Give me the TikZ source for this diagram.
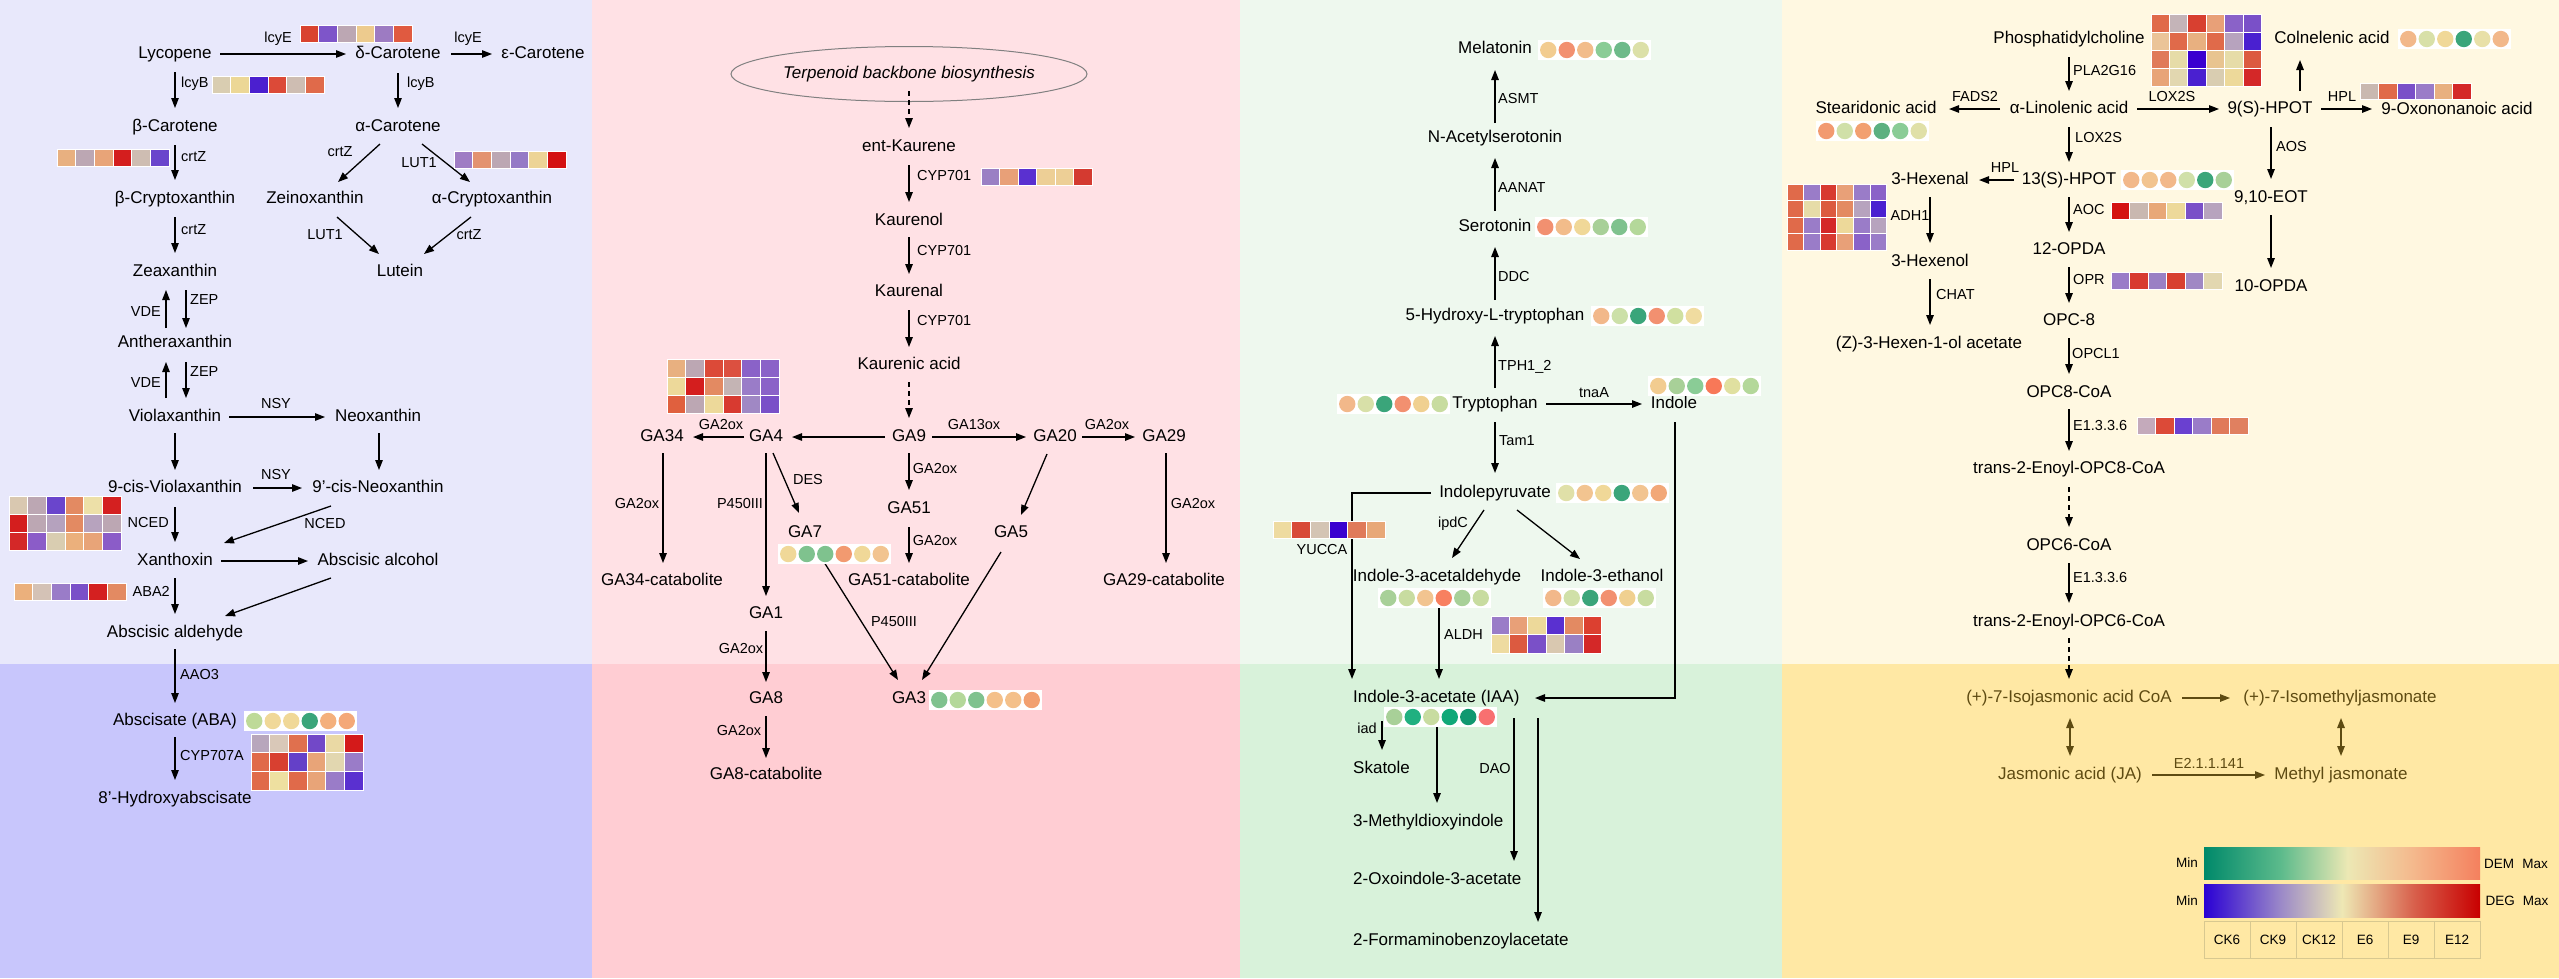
\documentclass[tikz,border=0pt]{standalone}
\usepackage{fontspec}
\setmainfont{Liberation Sans}
\usetikzlibrary{arrows.meta,shapes.geometric}
\newcommand\fcomp{\fontsize{17}{20}\selectfont}
\newcommand\fenz{\fontsize{14.5}{17}\selectfont}
\newcommand\flg{\fontsize{13.5}{16}\selectfont}
\definecolor{pat}{HTML}{E8E8FB}\definecolor{pab}{HTML}{C8C6FC}
\definecolor{pbt}{HTML}{FFE1E5}\definecolor{pbb}{HTML}{FFCDD3}
\definecolor{pct}{HTML}{EEF8EE}\definecolor{pcb}{HTML}{D8F2DA}
\definecolor{pdt}{HTML}{FFF8E1}\definecolor{pdb}{HTML}{FFE8A4}
\definecolor{jaol}{HTML}{5E4B12}
\definecolor{demA}{HTML}{00896A}\definecolor{demB}{HTML}{5DBB8C}\definecolor{demC}{HTML}{ECE8B4}\definecolor{demD}{HTML}{F4B88C}\definecolor{demE}{HTML}{F4805E}
\definecolor{degA}{HTML}{2A00D4}\definecolor{degB}{HTML}{9C8AC8}\definecolor{degC}{HTML}{EEE8B4}\definecolor{degD}{HTML}{D8604C}\definecolor{degE}{HTML}{C80000}
\definecolor{tabln}{HTML}{D8C890}
\pgfdeclarehorizontalshading{demsh}{100bp}{color(0bp)=(demA); color(25bp)=(demA); color(39bp)=(demB); color(51bp)=(demC); color(63bp)=(demD); color(75bp)=(demE); color(100bp)=(demE)}
\pgfdeclarehorizontalshading{degsh}{100bp}{color(0bp)=(degA); color(25bp)=(degA); color(39bp)=(degB); color(50bp)=(degC); color(63bp)=(degD); color(75bp)=(degE); color(100bp)=(degE)}
\newcommand\hmrow[5]{\foreach \c [count=\i from 0] in {#5}{\edef\tmp{\noexpand\definecolor{hmc}{HTML}{\c}}\tmp
  \fill[hmc,draw=white,line width=0.7pt] (#1+\i*#3,#2) rectangle ++(#3,#4);}}
\newcommand\crow[3]{\fill[white] (#1-1,#2-10) rectangle (#1+112,#2+10);
  \foreach \c [count=\i from 0] in {#3}{\edef\tmp{\noexpand\definecolor{crc}{HTML}{\c}}\tmp
  \fill[crc] (#1+9.25+\i*18.5,#2) circle[radius=8.2pt];}}
\newcommand\lk[5][]{\draw[arr0,#1] ([shift={(#3)}]#2.center) -- ([shift={(#5)}]#4.center);}
\begin{document}
\begin{tikzpicture}[x=1pt,y=-1pt,
  comp/.style={font=\fcomp,inner xsep=5pt,inner ysep=6pt,text height=12.3pt,text depth=3.6pt},
  enz/.style={font=\fenz,inner sep=1pt},
  lgd/.style={font=\flg,inner sep=1pt},
  arr0/.style={-{Triangle[length=10pt,width=7.5pt]},line width=1.3pt},
  dsh/.style={dash pattern=on 5pt off 4pt},
  dbl/.style={{Triangle[length=10pt,width=7.5pt]}-{Triangle[length=10pt,width=7.5pt]},line width=1.3pt}]
\useasboundingbox (0,0) rectangle (2559,978);
% backgrounds
\fill[pat] (0,0) rectangle (592,664); \fill[pab] (0,664) rectangle (592,978);
\fill[pbt] (592,0) rectangle (1240,664); \fill[pbb] (592,664) rectangle (1240,978);
\fill[pct] (1240,0) rectangle (1782,664); \fill[pcb] (1240,664) rectangle (1782,978);
\fill[pdt] (1782,0) rectangle (2559,664); \fill[pdb] (1782,664) rectangle (2559,978);

%================ PANEL 1 =================
\node[comp] (lyc) at (175,54) {Lycopene};
\node[comp] (dcar) at (398,54) {δ-Carotene};
\node[comp] (ecar) at (543,54) {ε-Carotene};
\node[comp] (bcar) at (175,127) {β-Carotene};
\node[comp] (acar) at (398,127) {α-Carotene};
\node[comp] (bcry) at (175,199) {β-Cryptoxanthin};
\node[comp] (zein) at (315,199) {Zeinoxanthin};
\node[comp] (acry) at (492,199) {α-Cryptoxanthin};
\node[comp] (lut) at (400,272) {Lutein};
\node[comp] (zea) at (175,272) {Zeaxanthin};
\node[comp] (anth) at (175,343) {Antheraxanthin};
\node[comp] (viol) at (175,417) {Violaxanthin};
\node[comp] (neo) at (378,417) {Neoxanthin};
\node[comp] (cviol) at (175,488) {9-cis-Violaxanthin};
\node[comp] (cneo) at (378,488) {9'-cis-Neoxanthin};
\node[comp] (xan) at (175,561) {Xanthoxin};
\node[comp] (absalc) at (378,561) {Abscisic alcohol};
\node[comp] (absald) at (175,633) {Abscisic aldehyde};
\node[comp] (aba) at (175,721) {Abscisate (ABA)};
\node[comp] (hyd) at (175,799) {8'-Hydroxyabscisate};

\lk{lyc}{45,0}{dcar}{-52,0}
\lk{dcar}{53,0}{ecar}{-51,0}
\lk{lyc}{0,18}{bcar}{0,-19}
\lk{dcar}{0,19}{acar}{0,-19}
\lk{bcar}{0,18}{bcry}{0,-19}
\lk{acar}{-18,17}{zein}{23,-17}
\lk{acar}{24,17}{acry}{-22,-17}
\lk{zein}{22,18}{lut}{-21,-18}
\lk{acry}{-21,18}{lut}{24,-18}
\lk{bcry}{0,18}{zea}{0,-19}
\lk{zea}{11,18}{anth}{11,-15}
\lk{anth}{-9,-15}{zea}{-9,18}
\lk{anth}{11,19}{viol}{11,-19}
\lk{viol}{-9,-19}{anth}{-9,19}
\lk{viol}{54,0}{neo}{-53,0}
\lk{viol}{0,16}{cviol}{0,-18}
\lk{neo}{1,16}{cneo}{1,-18}
\lk{cviol}{78,0}{cneo}{-76,0}
\lk{cviol}{0,19}{xan}{0,-19}
\lk{cneo}{-47,18}{xan}{49,-18}
\lk{xan}{46,0}{absalc}{-70,0}
\lk{xan}{0,17}{absald}{0,-19}
\lk{absalc}{-47,17}{absald}{50,-17}
\lk{absald}{0,16}{aba}{0,-18}
\lk{aba}{0,16}{hyd}{0,-19}

\node[enz] (e1) at (278,39) {lcyE};
\node[enz] (e2) at (468,39) {lcyE};
\node[enz,anchor=west] (e3) at (180,84) {lcyB};
\node[enz,anchor=west] (e4) at (406,84) {lcyB};
\node[enz,anchor=west] (e5) at (180,157) {crtZ};
\node[enz] (e6) at (340,152) {crtZ};
\node[enz] (e7) at (419,163) {LUT1};
\node[enz] (e8) at (325,235) {LUT1};
\node[enz] (e9) at (469,235) {crtZ};
\node[enz,anchor=west] (e10) at (180,230) {crtZ};
\node[enz,anchor=east] (e11) at (162,312) {VDE};
\node[enz,anchor=west] (e12) at (189,300) {ZEP};
\node[enz,anchor=east] (e13) at (162,383) {VDE};
\node[enz,anchor=west] (e14) at (189,372) {ZEP};
\node[enz] (e15) at (276,403) {NSY};
\node[enz] (e16) at (276,474) {NSY};
\node[enz,anchor=east] (e17) at (170,522) {NCED};
\node[enz] (e18) at (325,523) {NCED};
\node[enz,anchor=east] (e19) at (171,591) {ABA2};
\node[enz,anchor=west] (e20) at (179,674) {AAO3};
\node[enz,anchor=west] (e21) at (179,755) {CYP707A};

\hmrow{300}{25}{18.7}{17}{D9432F,7E55C9,BCA7B3,EDCB8E,9D7BC2,E05A40}
\hmrow{212}{76}{18.7}{17}{D9CDB1,ECD796,4B1FCF,DC4A38,CEBDB2,E06A4A}
\hmrow{57}{149}{18.7}{17}{E8B080,BCA7B3,E8A478,D41E1E,CEBDB2,6A45CC}
\hmrow{454}{151}{18.7}{17}{9F7CC4,E39370,BCA7B3,957AC6,EDD496,D41212}
\hmrow{9}{496}{18.7}{18}{D9C8B0,BCA7B3,6A45CC,E38A62,EDE0A8,D42020}
\hmrow{9}{514}{18.7}{18}{D41E1E,BCA7B3,B5A2BE,E38A62,B7A3BE,BCA7B3}
\hmrow{9}{532}{18.7}{18}{D42828,8B5CC8,D9CDB1,EBB07C,E8A478,8B5CC8}
\hmrow{14}{583}{18.7}{17}{EBB07C,D4C2B6,9A7CC8,7A50C8,D42020,E38A62}
\hmrow{251}{734}{18.7}{18.7}{B8A6BC,D9C8B8,E0704E,7248C8,EAD9A4,D41A1A}
\hmrow{251}{752.7}{18.7}{18.7}{E06A4A,D84030,6440C8,E8A478,E2D7B0,9A7CC8}
\hmrow{251}{771.4}{18.7}{18.7}{E06A4A,EEE0A0,E06A4A,E8A478,9A7CC8,5A30D0}
\crow{245}{721}{BEDA98,F0D898,F0D898,3AA57A,F4B07C,F4A878}

%================ PANEL 2 =================
\node[draw=gray,line width=1pt,ellipse,minimum width=285pt,minimum height=55pt,inner sep=0pt,font=\fcomp\itshape] (terp) at (909,74) {Terpenoid backbone biosynthesis};
\node[comp] (entk) at (909,147) {ent-Kaurene};
\node[comp] (kol) at (909,221) {Kaurenol};
\node[comp] (kal) at (909,292) {Kaurenal};
\node[comp] (kac) at (909,365) {Kaurenic acid};
\node[comp] (ga34) at (662,437) {GA34};
\node[comp] (ga4) at (766,437) {GA4};
\node[comp] (ga9) at (909,437) {GA9};
\node[comp] (ga20) at (1055,437) {GA20};
\node[comp] (ga29) at (1164,437) {GA29};
\node[comp] (ga34c) at (662,581) {GA34-catabolite};
\node[comp] (ga7) at (805,533) {GA7};
\node[comp] (ga51) at (909,509) {GA51};
\node[comp] (ga51c) at (909,581) {GA51-catabolite};
\node[comp] (ga5) at (1011,533) {GA5};
\node[comp] (ga29c) at (1164,581) {GA29-catabolite};
\node[comp] (ga1) at (766,614) {GA1};
\node[comp] (ga8) at (766,699) {GA8};
\node[comp] (ga3) at (909,699) {GA3};
\node[comp] (ga8c) at (766,775) {GA8-catabolite};

\lk[dsh]{terp}{0,17}{entk}{0,-19}
\lk{entk}{0,18}{kol}{0,-19}
\lk{kol}{0,16}{kal}{0,-18}
\lk{kal}{0,18}{kac}{0,-18}
\lk[dsh]{kac}{0,17}{ga9}{0,-19}
\lk{ga4}{-22,0}{ga34}{31,0}
\lk{ga9}{-24,0}{ga4}{26,0}
\lk{ga9}{23,0}{ga20}{-29,0}
\lk{ga20}{27,0}{ga29}{-29,0}
\lk{ga34}{1,16}{ga34c}{1,-18}
\lk{ga4}{0,16}{ga1}{0,-18}
\lk{ga4}{7,16}{ga7}{-6,-20}
\lk{ga9}{0,16}{ga51}{0,-19}
\lk{ga51}{0,18}{ga51c}{0,-18}
\lk{ga20}{-8,17}{ga5}{10,-18}
\lk{ga29}{2,16}{ga29c}{2,-18}
\lk{ga7}{19,29}{ga3}{-11,-19}
\lk{ga5}{-10,19}{ga3}{13,-19}
\lk{ga1}{0,17}{ga8}{0,-17}
\lk{ga8}{0,17}{ga8c}{0,-17}

\node[enz,anchor=west] (f1) at (916,176) {CYP701};
\node[enz,anchor=west] (f2) at (916,251) {CYP701};
\node[enz,anchor=west] (f3) at (916,321) {CYP701};
\node[enz] (f4) at (721,424) {GA2ox};
\node[enz] (f5) at (974,424) {GA13ox};
\node[enz] (f6) at (1107,424) {GA2ox};
\node[enz] (f7) at (637,503) {GA2ox};
\node[enz] (f8) at (740,503) {P450III};
\node[enz] (f9) at (808,479) {DES};
\node[enz] (f10) at (935,468) {GA2ox};
\node[enz] (f11) at (935,540) {GA2ox};
\node[enz] (f12) at (1193,503) {GA2ox};
\node[enz] (f13) at (894,621) {P450III};
\node[enz] (f14) at (741,648) {GA2ox};
\node[enz] (f15) at (739,730) {GA2ox};

\hmrow{981}{168}{18.5}{17}{9A80C4,E8A078,5A30D0,EDCF96,EDCF96,D43A30}
\hmrow{667}{359}{18.7}{18}{E8B080,BCA7B3,DC4A38,DC5040,8A62C8,8A62C8}
\hmrow{667}{377}{18.7}{18}{EDD99A,D41E1E,E38A62,C4B4B4,9A7CC8,8A62C8}
\hmrow{667}{395}{18.7}{18}{E0603E,BCA7B3,EDD99A,D83A30,A088C4,7A50C8}
\crow{779}{554}{F0D898,7FC28E,7FC28E,F29A70,F0D898,F2C490}
\crow{930}{700}{7FC28E,B4D89A,7FC28E,F4C08A,F4C08A,F2A070}

%================ PANEL 3 =================
\node[comp] (mel) at (1495,49) {Melatonin};
\node[comp] (nacs) at (1495,138) {N-Acetylserotonin};
\node[comp] (ser) at (1495,227) {Serotonin};
\node[comp] (htp) at (1495,316) {5-Hydroxy-L-tryptophan};
\node[comp] (trp) at (1495,404) {Tryptophan};
\node[comp] (ind) at (1674,404) {Indole};
\node[comp] (ipy) at (1495,493) {Indolepyruvate};
\node[comp] (iald) at (1437,577) {Indole-3-acetaldehyde};
\node[comp] (ieth) at (1602,577) {Indole-3-ethanol};
\node[comp,anchor=west] (iaa) at (1348,698) {Indole-3-acetate (IAA)};
\node[comp,anchor=west] (skat) at (1348,769) {Skatole};
\node[comp,anchor=west] (mdi) at (1348,822) {3-Methyldioxyindole};
\node[comp,anchor=west] (oxo) at (1348,880) {2-Oxoindole-3-acetate};
\node[comp,anchor=west] (form) at (1348,941) {2-Formaminobenzoylacetate};

\lk{nacs}{0,-15}{mel}{0,21}
\lk{ser}{0,-16}{nacs}{0,20}
\lk{htp}{0,-16}{ser}{0,20}
\lk{trp}{0,-16}{htp}{0,20}
\lk{trp}{51,0}{ind}{-32,0}
\lk{trp}{0,18}{ipy}{0,-20}
\draw[arr0] ([shift={(-64,0)}]ipy.center) -| ([shift={(4,-19)}]iaa.west);
\lk{ipy}{-11,17}{iald}{15,-19}
\lk{ipy}{22,17}{ieth}{-22,-18}
\draw[arr0] ([shift={(2,31)}]iald.center) -- ([shift={(91,-19)}]iaa.west);
\draw[arr0] ([shift={(1,18)}]ind.center) |- ([shift={(187,0)}]iaa.west);
\draw[arr0] ([shift={(34,23)}]iaa.west) -- ([shift={(34,-19)}]skat.west);
\draw[arr0] ([shift={(89,29)}]iaa.west) -- ([shift={(89,-19)}]mdi.west);
\draw[arr0] ([shift={(166,20)}]iaa.west) -- ([shift={(166,-19)}]oxo.west);
\draw[arr0] ([shift={(190,20)}]iaa.west) -- ([shift={(190,-19)}]form.west);

\node[enz,anchor=west] (g1) at (1497,99) {ASMT};
\node[enz,anchor=west] (g2) at (1497,188) {AANAT};
\node[enz,anchor=west] (g3) at (1497,277) {DDC};
\node[enz,anchor=west] (g4) at (1497,367) {TPH1\_2};
\node[enz] (g5) at (1594,393) {tnaA};
\node[enz,anchor=west] (g6) at (1498,441) {Tam1};
\node[enz] (g7) at (1453,524) {ipdC};
\node[enz] (g8) at (1322,549) {YUCCA};
\node[enz,anchor=west] (g9) at (1443,634) {ALDH};
\node[enz,anchor=east] (g10) at (1378,728) {iad};
\node[enz] (g11) at (1495,768) {DAO};

\crow{1539}{50}{F2CC90,F29070,F2BC8A,8ACC96,6EBA8A,DCE0A8}
\crow{1536}{227}{F29070,F2BC8A,F0D898,A8D098,7FC28E,B4D89A}
\crow{1592}{316}{F2B88A,CCE0A8,3AA57A,F29070,D0E0A0,F0DCA0}
\crow{1338}{404}{F2B88A,D8E0A8,3AA57A,F29070,F0D090,C8DCA0}
\crow{1649}{386}{F2CC90,A8D098,8ACC96,F87858,E0E0A0,B4D89A}
\crow{1557}{493}{E0E0A8,F2C490,F0D898,3AA57A,F2C490,F2A878}
\crow{1379}{598}{A8D098,C8DCA0,F2C490,F88060,A8D098,C8DCA0}
\crow{1544}{598}{F2B88A,D0E0A8,3AA57A,F29070,F0D090,C8DCA0}
\crow{1385}{717}{A8D098,20B080,C8DCA0,10A878,109870,F87070}
\hmrow{1273}{521}{18.7}{17}{EEDBA0,D84A38,D4C4B4,3A00D0,E07A5A,E8A878}
\hmrow{1491}{616}{18.4}{18.5}{9A7CC8,E8A078,EDD99A,5A30D0,E38A62,DC4030}
\hmrow{1491}{634.5}{18.4}{18.5}{EEDBA0,DC5A40,7A50C8,D9C8B0,9A80C4,D42828}

%================ PANEL 4 =================
\node[comp] (pc) at (2069,39) {Phosphatidylcholine};
\node[comp] (ala) at (2069,109) {α-Linolenic acid};
\node[comp] (sda) at (1876,109) {Stearidonic acid};
\node[comp] (hpot9) at (2270,109) {9(S)-HPOT};
\node[comp] (coln) at (2332,39) {Colnelenic acid};
\node[comp] (oxo9) at (2457,110) {9-Oxononanoic acid};
\node[comp] (hpot13) at (2069,180) {13(S)-HPOT};
\node[comp] (hexal) at (1930,180) {3-Hexenal};
\node[comp] (hexol) at (1930,262) {3-Hexenol};
\node[comp] (hexac) at (1929,344) {(Z)-3-Hexen-1-ol acetate};
\node[comp] (eot) at (2271,198) {9,10-EOT};
\node[comp] (opda10) at (2271,287) {10-OPDA};
\node[comp] (opda12) at (2069,250) {12-OPDA};
\node[comp] (opc8) at (2069,321) {OPC-8};
\node[comp] (opc8coa) at (2069,393) {OPC8-CoA};
\node[comp] (t8) at (2069,469) {trans-2-Enoyl-OPC8-CoA};
\node[comp] (opc6coa) at (2069,546) {OPC6-CoA};
\node[comp] (t6) at (2069,622) {trans-2-Enoyl-OPC6-CoA};
\node[comp,text=jaol] (ijc) at (2069,698) {(+)-7-Isojasmonic acid CoA};
\node[comp,text=jaol] (imj) at (2340,698) {(+)-7-Isomethyljasmonate};
\node[comp,text=jaol] (ja) at (2070,775) {Jasmonic acid (JA)};
\node[comp,text=jaol] (mj) at (2341,775) {Methyl jasmonate};

\lk{pc}{0,18}{ala}{0,-18}
\lk{ala}{-69,0}{sda}{73,0}
\lk{ala}{68,0}{hpot9}{-51,0}
\lk{hpot9}{30,-18}{coln}{-32,21}
\lk{hpot9}{51,0}{oxo9}{-85,-1}
\lk{ala}{0,18}{hpot13}{0,-18}
\lk{hpot13}{-55,0}{hexal}{49,0}
\lk{hexal}{0,17}{hexol}{0,-19}
\lk{hexol}{0,17}{hexac}{1,-19}
\lk{hpot9}{1,18}{eot}{0,-19}
\lk{eot}{0,17}{opda10}{0,-19}
\lk{hpot13}{0,17}{opda12}{0,-18}
\lk{opda12}{0,17}{opc8}{0,-18}
\lk{opc8}{0,17}{opc8coa}{0,-19}
\lk{opc8coa}{0,16}{t8}{0,-18}
\lk[dsh]{t8}{0,18}{opc6coa}{0,-19}
\lk{opc6coa}{0,17}{t6}{0,-19}
\lk[dsh]{t6}{0,16}{ijc}{0,-19}
\lk[jaol]{ijc}{113,0}{imj}{-110,0}
\draw[dbl,jaol] ([shift={(1,20)}]ijc.center) -- ([shift={(0,-19)}]ja.center);
\draw[dbl,jaol] ([shift={(1,20)}]imj.center) -- ([shift={(0,-19)}]mj.center);
\lk[jaol]{ja}{82,0}{mj}{-76,0}

\node[enz,anchor=west] (h1) at (2072,71) {PLA2G16};
\node[enz] (h2) at (1975,97) {FADS2};
\node[enz] (h3) at (2172,97) {LOX2S};
\node[enz] (h4) at (2342,97) {HPL};
\node[enz,anchor=west] (h5) at (2074,138) {LOX2S};
\node[enz] (h6) at (2005,168) {HPL};
\node[enz,anchor=west] (h7) at (2275,147) {AOS};
\node[enz,anchor=west] (h8) at (2072,210) {AOC};
\node[enz] (h9) at (1910,216) {ADH1};
\node[enz,anchor=west] (h10) at (1935,295) {CHAT};
\node[enz,anchor=west] (h11) at (2072,280) {OPR};
\node[enz,anchor=west] (h12) at (2071,353) {OPCL1};
\node[enz,anchor=west] (h13) at (2072,425) {E1.3.3.6};
\node[enz,anchor=west] (h14) at (2072,577) {E1.3.3.6};
\node[enz,text=jaol] (h15) at (2209,763) {E2.1.1.141};

\hmrow{2151}{14}{18.4}{18.2}{E06A4A,C4B4B8,D84030,E8A078,8A62C8,7A50C8}
\hmrow{2151}{32.2}{18.4}{18.2}{EBC498,E06A4A,E8B080,E06A4A,B7A3BE,4A20D0}
\hmrow{2151}{50.4}{18.4}{18.2}{E07A5A,E6DCA8,3A00D0,E8C490,E6DCA8,DC5A40}
\hmrow{2151}{68.6}{18.4}{18.2}{E8A478,E2D7B0,4A20D0,D9CDB1,EDD99A,D42828}
\hmrow{2360}{83}{18.5}{16.5}{C9B8B0,E06A4A,7A50C8,9A7CC8,E8B080,D42828}
\hmrow{1787}{184}{16.6}{16.5}{E06A4A,9A7CC8,D83A30,E8A078,9A7CC8,8A62C8}
\hmrow{1787}{200.5}{16.6}{16.5}{E06A4A,E6DCA8,DC5A40,E38A62,B7A3BE,4A20D0}
\hmrow{1787}{217}{16.6}{16.5}{E06A4A,9A7CC8,D42828,EDD99A,9A7CC8,B7A3BE}
\hmrow{1787}{233.5}{16.6}{16.5}{E06A4A,9A7CC8,D83A30,E8A078,8A62C8,9A7CC8}
\hmrow{2111}{202}{18.5}{17}{D41212,C9B8B0,E8A878,EDD99A,7A50C8,B7A3BE}
\hmrow{2111}{272}{18.5}{17}{9A7CC8,D83A30,9A80C4,D84030,A088C4,E2D7B0}
\hmrow{2137}{417}{18.5}{17}{C4AABB,DC4A38,6A40D0,9A7CC8,E07A5A,E08060}
\crow{2399}{39}{F2B88A,D8E0A8,F0D898,3AA57A,E8E0A8,F2B88A}
\crow{1817}{131}{F29A70,D0E0A8,F2A070,5CB080,8ACC96,E0E0A8}
\crow{2122}{180}{F2B88A,F2C490,F2B88A,D0E0A8,3AA57A,A8D098}

% legend
\shade[shading=demsh] (2204,847) rectangle (2480,879);
\shade[shading=degsh] (2204,884) rectangle (2480,917);
\node[lgd] (lm1) at (2187,863) {Min};
\node[lgd] (lm2) at (2187,901) {Min};
\node[lgd] (lx1) at (2516,864) {DEM\hspace{0.6em}Max};
\node[lgd] (lx2) at (2517,901) {DEG\hspace{0.6em}Max};
\foreach \t [count=\i from 0] in {CK6,CK9,CK12,E6,E9,E12}
  \node[lgd,draw=tabln,line width=1pt,minimum width=46pt,minimum height=37pt,inner sep=0pt] (lt\i) at (2227+\i*46,939.5) {\t};
\end{tikzpicture}
\end{document}
